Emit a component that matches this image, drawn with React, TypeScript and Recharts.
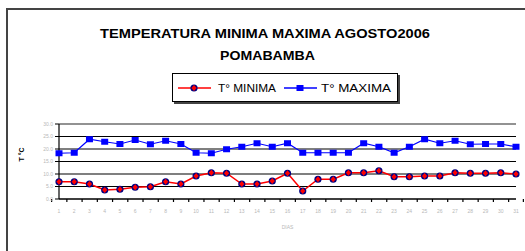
import React from 'react'
import {
  CartesianGrid,
  Line,
  LineChart,
  ReferenceLine,
  XAxis,
  YAxis,
} from "recharts";

const days = [1, 2, 3, 4, 5, 6, 7, 8, 9, 10, 11, 12, 13, 14, 15, 16, 17, 18, 19, 20, 21, 22, 23, 24, 25, 26, 27, 28, 29, 30, 31]
const tMin = [6.9, 6.9, 6.0, 3.6, 3.9, 4.7, 4.9, 6.9, 6.0, 9.2, 10.5, 10.3, 6.0, 6.0, 7.2, 10.3, 3.2, 7.9, 7.9, 10.5, 10.5, 11.3, 8.9, 8.9, 9.2, 9.2, 10.5, 10.3, 10.3, 10.5, 10.0]
const tMax = [18.3, 18.5, 23.9, 22.9, 22.0, 23.6, 21.9, 23.3, 22.0, 18.5, 18.3, 19.9, 20.9, 22.3, 20.9, 22.3, 18.5, 18.5, 18.5, 18.5, 22.3, 20.9, 18.5, 20.9, 23.9, 22.3, 23.3, 21.9, 22.0, 22.0, 20.9]
const yTicks = [0, 5, 10, 15, 20, 25, 30]

const data = days.map((d, i) => ({ day: d, min: tMin[i], max: tMax[i] }))

const MinDot = (props: any) => {
  const { cx, cy } = props
  if (cx == null || cy == null) return null
  return (
    <g>
      <circle cx={cx} cy={cy} r={3.6} fill="#000080" />
      <path d={`M${cx} ${cy - 3}L${cx + 2.6} ${cy}L${cx} ${cy + 3}L${cx - 2.6} ${cy}Z`} fill="#ff0000" />
    </g>
  )
}

const MaxDot = (props: any) => {
  const { cx, cy } = props
  if (cx == null || cy == null) return null
  return <rect x={cx - 3.5} y={cy - 3} width={7} height={6} fill="#0000ff" />
}

const DayTick = (props: any) => {
  const { x, y, payload, index, width } = props
  const half = payload.offset || width / 62
  return (
    <g>
      <line x1={x - half} y1={y - 8} x2={x - half} y2={y - 5} stroke="#000" strokeWidth={1.2} />
      {index === days.length - 1 && (
        <line x1={x + half} y1={y - 8} x2={x + half} y2={y - 5} stroke="#000" strokeWidth={1.2} />
      )}
      <text x={x} y={y + 6} textAnchor="middle" fontSize={5} fill="#b8b8b8" fontFamily="Liberation Sans">
        {payload.value}
      </text>
    </g>
  )
}

const LegendBox = () => (
  <div style={{ position: 'absolute', left: 172, top: 73, width: 224, height: 27, border: '1.5px solid #000', boxShadow: '2px 2px 0 #444', background: '#fff' }}>
    <svg width={224} height={27} style={{ position: 'absolute', left: 0, top: 0 }}>
      <line x1={5} y1={14} x2={38} y2={14} stroke="#ff0000" strokeWidth={1.5} />
      <MinDot cx={21} cy={14} />
      <text x={45} y={18} fontSize={11} fontFamily="Liberation Sans" fill="#000" textLength={58} lengthAdjust="spacingAndGlyphs">T° MINIMA</text>
      <line x1={111} y1={14} x2={144} y2={14} stroke="#0000ff" strokeWidth={1.5} />
      <MaxDot cx={127} cy={14} />
      <text x={148} y={18} fontSize={11} fontFamily="Liberation Sans" fill="#000" textLength={70} lengthAdjust="spacingAndGlyphs">T° MAXIMA</text>
    </svg>
  </div>
)

export default function App() {
  return (
    <div style={{ position: 'fixed', left: 0, top: 0, width: 525, height: 251, overflow: 'hidden', background: '#fff' }}>
      <div style={{ position: 'absolute', left: 6, top: 8, width: 600, height: 300, border: '2px solid #444' }} />
      <svg width={525} height={70} style={{ position: 'absolute', left: 0, top: 0 }}>
        <text x={100} y={38} textLength={330} lengthAdjust="spacingAndGlyphs" fontSize={13} fontWeight="bold" fontFamily="Liberation Sans" fill="#000">
          TEMPERATURA MINIMA MAXIMA AGOSTO2006
        </text>
        <text x={220} y={60} textLength={95} lengthAdjust="spacingAndGlyphs" fontSize={13} fontWeight="bold" fontFamily="Liberation Sans" fill="#000">
          POMABAMBA
        </text>
      </svg>
      <LegendBox />
      <LineChart
        width={525}
        height={251}
        data={data}
        margin={{ top: 124, right: 9, bottom: 22, left: 0 }}
        style={{ position: 'absolute', left: 0, top: 0 }}
      >
        <CartesianGrid vertical={false} stroke="#000" strokeWidth={1.2} />
        <XAxis
          dataKey="day"
          height={30}
          interval={0}
          tickLine={false}
          axisLine={{ stroke: '#000', strokeWidth: 1.2 }}
          tick={<DayTick />}
          label={{ value: 'DIAS', position: 'insideBottom', offset: 0, fontSize: 5, fill: '#b8b8b8', fontFamily: 'Liberation Sans' }}
        />
        <YAxis
          width={59}
          domain={[0, 30]}
          ticks={yTicks}
          interval={0}
          tickFormatter={(v) => v.toFixed(1)}
          tickSize={4}
          tickLine={{ stroke: '#000' }}
          axisLine={{ stroke: '#000', strokeWidth: 1.2 }}
          tick={{ fontSize: 5, fill: '#b8b8b8', fontFamily: 'Liberation Sans' }}
          label={{ value: 'T °C', angle: -90, position: 'insideLeft', offset: 22, fontSize: 7, fontWeight: 'bold', fill: '#000', fontFamily: 'Liberation Sans' }}
        />
        <YAxis yAxisId="edge" orientation="right" width={0} tick={false} domain={[0, 30]} axisLine={{ stroke: '#999', strokeWidth: 2 }} />
        <ReferenceLine y={30} stroke="#999" strokeWidth={1.5} />
        <Line dataKey="max" stroke="#0000ff" strokeWidth={1.2} dot={<MaxDot />} activeDot={false} isAnimationActive={false} />
        <Line dataKey="min" stroke="#ff0000" strokeWidth={1.5} dot={<MinDot />} activeDot={false} isAnimationActive={false} />
      </LineChart>
    </div>
  )
}
